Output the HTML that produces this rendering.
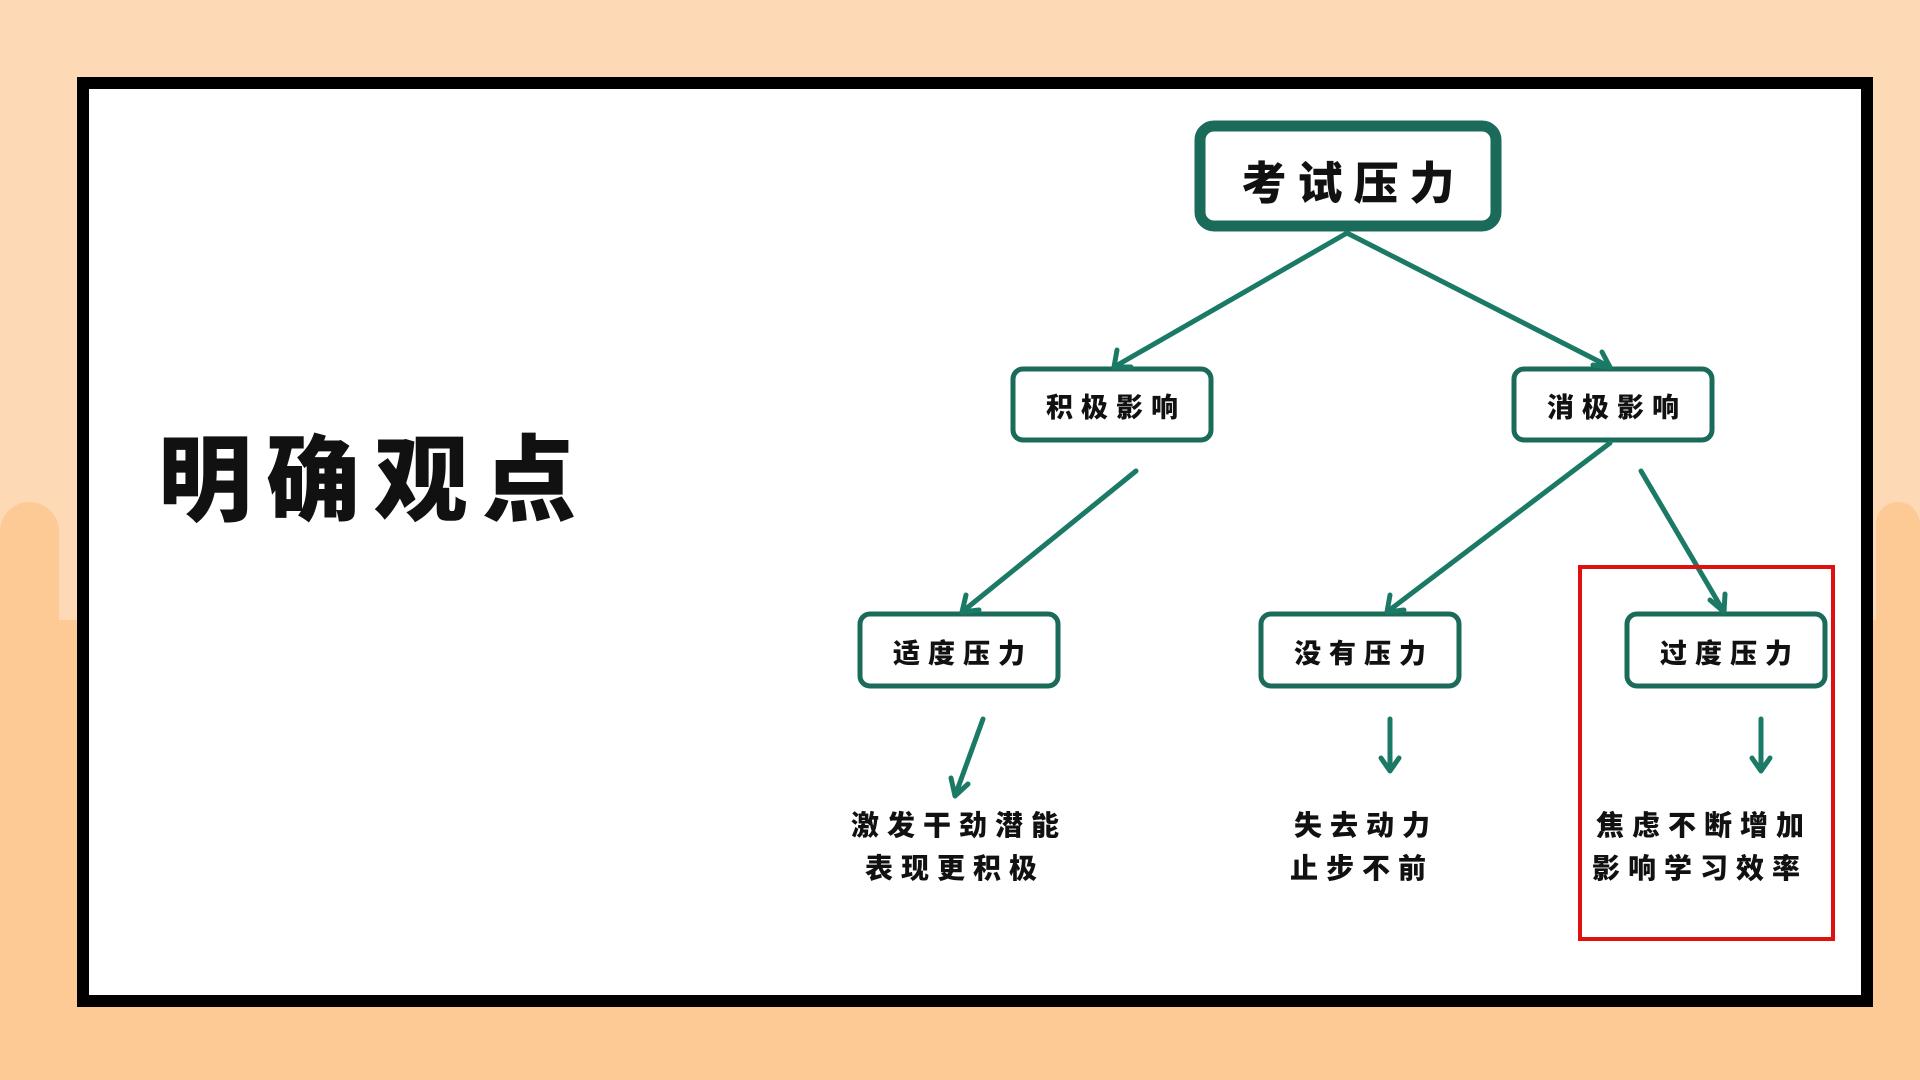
<!DOCTYPE html>
<html><head><meta charset="utf-8"><style>
html,body{margin:0;padding:0}
body{width:1920px;height:1080px;position:relative;overflow:hidden;background:#fdd9b6;font-family:"Liberation Sans","Noto Sans CJK SC",sans-serif}
.dk{position:absolute;background:#fdca96}
.frame{position:absolute;left:77px;top:77px;width:1772px;height:906px;border:12px solid #000;background:#fff}
.t{position:absolute;font-family:"Noto Sans CJK SC","WenQuanYi Zen Hei",sans-serif;font-weight:900;color:#111;white-space:nowrap;text-align:center}
.s{letter-spacing:8px;text-indent:8px}
</style></head><body>
<div class="dk" style="left:0;top:620px;width:1920px;height:460px"></div>
<div class="dk" style="left:0;top:502px;width:59px;height:300px;border-radius:30px 30px 0 0"></div>
<div class="dk" style="left:1876px;top:502px;width:44px;height:300px;border-radius:30px 30px 0 0"></div>
<div class="frame"></div>
<svg width="1920" height="1080" style="position:absolute;left:0;top:0">
<g fill="#fff" stroke="#1b6b5a">
<rect x="1200" y="126" width="296" height="100" rx="14" stroke-width="11"/>
<rect x="1013" y="369" width="198" height="71" rx="10" stroke-width="5"/>
<rect x="1514" y="369" width="198" height="71" rx="10" stroke-width="5"/>
<rect x="860" y="614" width="198" height="72" rx="10" stroke-width="5"/>
<rect x="1261" y="614" width="198" height="72" rx="10" stroke-width="5"/>
<rect x="1627" y="614" width="198" height="72" rx="10" stroke-width="5"/>
</g>
<g stroke="#1b7a66" stroke-width="5" fill="none" stroke-linecap="round" stroke-linejoin="round">
<path d="M1347 233 L1114 367 M1117 350 L1114 367 L1131 367"/>
<path d="M1347 233 L1610 367 M1593 365 L1610 367 L1602 352"/>
<path d="M1136 471 L962 612 M966 595 L962 612 L979 610"/>
<path d="M1610 443 L1387 612 M1390 595 L1387 612 L1404 610"/>
<path d="M1641 471 L1724 612 M1710 600 L1724 612 L1725 594"/>
<path d="M983 719 L955 796 M951 778 L955 796 L968 784"/>
<path d="M1390 719 L1390 771 M1381 758 L1390 771 L1399 758"/>
<path d="M1761 719 L1761 771 M1752 758 L1761 771 L1770 758"/>
</g>
<rect x="1580" y="567" width="253" height="372" fill="none" stroke="#e01010" stroke-width="4"/>
</svg>
<div class="t" style="left:158px;top:418px;font-size:94px;letter-spacing:14px;line-height:110px">明确观点</div>
<div class="t" style="left:1200px;top:153px;width:296px;font-size:45px;line-height:54px;letter-spacing:11px;text-indent:11px">考试压力</div>
<div class="t s" style="left:1013px;top:389px;width:198px;font-size:27px;line-height:34px">积极影响</div>
<div class="t s" style="left:1514px;top:389px;width:198px;font-size:27px;line-height:34px">消极影响</div>
<div class="t s" style="left:860px;top:635px;width:198px;font-size:27px;line-height:34px">适度压力</div>
<div class="t s" style="left:1261px;top:635px;width:198px;font-size:27px;line-height:34px">没有压力</div>
<div class="t s" style="left:1627px;top:635px;width:198px;font-size:27px;line-height:34px">过度压力</div>
<div class="t s" style="left:805px;top:803px;width:300px;font-size:28px;line-height:43px">激发干劲潜能<br>表现更积极</div>
<div class="t s" style="left:1212px;top:803px;width:300px;font-size:28px;line-height:43px">失去动力<br>止步不前</div>
<div class="t s" style="left:1550px;top:803px;width:300px;font-size:28px;line-height:43px">焦虑不断增加<br>影响学习效率</div>
</body></html>
